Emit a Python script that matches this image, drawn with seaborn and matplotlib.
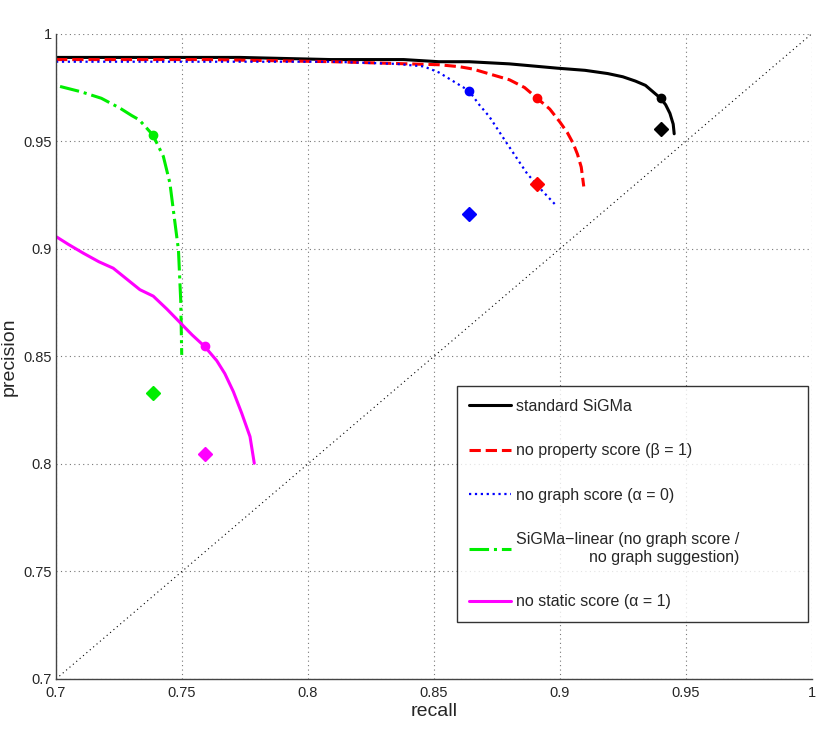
import numpy as np
import pandas as pd
import matplotlib
matplotlib.use("Agg")
import matplotlib.pyplot as plt
import seaborn as sns
from matplotlib.ticker import FuncFormatter

# precision / recall curves
std_recall = [0.700, 0.720, 0.740, 0.773, 0.809, 0.838, 0.852, 0.864, 0.880, 0.899, 0.910, 0.919,
              0.925, 0.930, 0.934, 0.937, 0.940, 0.942, 0.9437, 0.945, 0.9454]
std_prec = [0.989, 0.989, 0.989, 0.989, 0.988, 0.988, 0.987, 0.987, 0.986, 0.984, 0.983, 0.9815,
            0.980, 0.978, 0.976, 0.973, 0.970, 0.967, 0.963, 0.958, 0.9535]

prop_recall = [0.700, 0.760, 0.810, 0.852, 0.860, 0.8655, 0.873, 0.880, 0.886, 0.891, 0.896, 0.900,
               0.903, 0.9053, 0.907, 0.9085, 0.9095]
prop_prec = [0.988, 0.988, 0.987, 0.9856, 0.9847, 0.9836, 0.981, 0.9786, 0.975, 0.970, 0.965, 0.959,
             0.954, 0.949, 0.944, 0.938, 0.929]

graph_recall = [0.700, 0.760, 0.810, 0.835, 0.846, 0.852, 0.859, 0.8639, 0.868, 0.872, 0.879, 0.887,
                0.893, 0.898]
graph_prec = [0.987, 0.987, 0.987, 0.986, 0.9848, 0.982, 0.977, 0.9735, 0.967, 0.9615, 0.949, 0.935,
              0.927, 0.9208]

lin_recall = [0.7016, 0.710, 0.718, 0.7254, 0.730, 0.733, 0.7384, 0.7426, 0.7452, 0.7469, 0.7486,
              0.7495, 0.7499]
lin_prec = [0.9755, 0.973, 0.970, 0.9654, 0.962, 0.960, 0.953, 0.943, 0.9306, 0.915, 0.8995,
            0.876, 0.8507]

stat_recall = [0.700, 0.705, 0.7108, 0.717, 0.7227, 0.728, 0.7333, 0.7386, 0.744, 0.749, 0.754,
               0.759, 0.7638, 0.767, 0.7704, 0.7737, 0.777, 0.7787]
stat_prec = [0.9057, 0.902, 0.898, 0.894, 0.891, 0.886, 0.881, 0.878, 0.872, 0.866, 0.860,
             0.8546, 0.848, 0.842, 0.8336, 0.8236, 0.8127, 0.8003]

# operating points (dots on curves) and single-threshold results (diamonds)
dot_recall = [0.940, 0.891, 0.8639, 0.7384, 0.759]
dot_prec = [0.970, 0.970, 0.9735, 0.953, 0.8546]
dia_recall = [0.940, 0.891, 0.8639, 0.7384, 0.759]
dia_prec = [0.9557, 0.930, 0.916, 0.8329, 0.8045]

labels = ["standard SiGMa",
          "no property score (\u03b2 = 1)",
          "no graph score (\u03b1 = 0)",
          "SiGMa\u2212linear (no graph score /\nno graph suggestion)",
          "no static score (\u03b1 = 1)"]
colors = ["black", "red", "blue", "#00ee00", "magenta"]
styles = ["-", "--", ":", "-.", "-"]
widths = [2.2, 2.2, 1.6, 2.2, 2.2]

diag = [0.7, 1.0]
xticks = [0.7, 0.75, 0.8, 0.85, 0.9, 0.95, 1.0]
yticks = [0.7, 0.75, 0.8, 0.85, 0.9, 0.95, 1.0]

sns.set_style("white")
plt.rcParams["font.family"] = ["Liberation Sans", "DejaVu Sans"]

fig = plt.figure(figsize=(8.3, 7.34), dpi=100)
ax = fig.add_axes([0.0675, 0.075, 0.9105, 0.879])

ax.grid(True, linestyle=(0, (1, 3)), color="#777777", linewidth=0.8)
ax.set_axisbelow(True)

sns.lineplot(x=diag, y=diag, ax=ax, color="black", linestyle=(0, (1, 3)), linewidth=0.8)

curves = [(std_recall, std_prec), (prop_recall, prop_prec), (graph_recall, graph_prec),
          (lin_recall, lin_prec), (stat_recall, stat_prec)]
for i, (r, p) in enumerate(curves):
    sns.lineplot(x=r, y=p, sort=False, ax=ax, color=colors[i], linestyle=styles[i],
                 linewidth=widths[i], label=labels[i])

for i in range(len(colors)):
    ax.plot(dot_recall[i], dot_prec[i], "o", color=colors[i], markersize=6)
    ax.plot(dia_recall[i], dia_prec[i], "D", color=colors[i], markersize=7)

ax.set_xlim(0.7, 1.0)
ax.set_ylim(0.7, 1.0)
ax.set_xticks(xticks)
ax.set_yticks(yticks)
fmt = FuncFormatter(lambda v, pos: "%g" % round(v, 2))
ax.xaxis.set_major_formatter(fmt)
ax.yaxis.set_major_formatter(fmt)
ax.tick_params(direction="in", length=5, width=0.8, labelsize=10.5, color="#333333", pad=5)
ax.tick_params(axis="y", pad=3)

for s in ["top", "right"]:
    ax.spines[s].set_visible(False)
for s in ["left", "bottom"]:
    ax.spines[s].set_color("#444444")
    ax.spines[s].set_linewidth(1.0)

ax.set_xlabel("recall", fontsize=14, labelpad=2)
ax.set_ylabel("precision", fontsize=14, labelpad=4)

leg = ax.legend(loc="lower left", bbox_to_anchor=(0.530, 0.088, 0.465, 0.369), mode="expand",
                fontsize=11.5, frameon=True, fancybox=False, edgecolor="black",
                handlelength=2.6, handletextpad=0.3, labelspacing=1.85, borderpad=0.8,
                borderaxespad=0)
leg.get_frame().set_linewidth(1.0)
leg.get_texts()[3].set_multialignment("right")

fig.savefig("out.png", dpi=100)
